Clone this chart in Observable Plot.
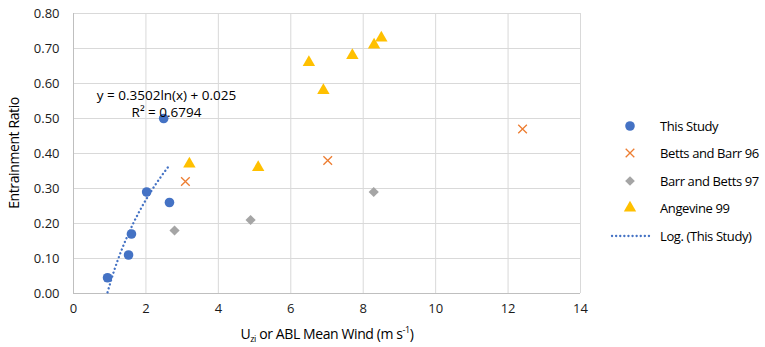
<!DOCTYPE html>
<html><head><meta charset="utf-8">
<script src="https://cdn.jsdelivr.net/npm/d3@7"></script>
<script src="https://cdn.jsdelivr.net/npm/@observablehq/plot@0.6"></script>
<style>
body{margin:0;background:#fff;}
#chart{position:relative;width:765px;height:347px;}
svg text{font-family:"Open Sans",sans-serif;}
</style></head><body><div id="chart"></div>
<script>
// Data
const thisStudyX = [0.94, 1.52, 1.60, 2.02, 2.65, 2.49];
const thisStudyY = [0.045, 0.11, 0.17, 0.29, 0.26, 0.50];
const bettsBarrX = [3.09, 7.02, 12.4];
const bettsBarrY = [0.32, 0.38, 0.47];
const barrBettsX = [2.79, 4.89, 8.29];
const barrBettsY = [0.18, 0.21, 0.29];
const angevineX = [3.2, 5.1, 6.5, 6.9, 7.7, 8.3, 8.5];
const angevineY = [0.37, 0.36, 0.66, 0.58, 0.68, 0.71, 0.73];
// Logarithmic trendline shown on chart: y = a ln(x) + b
const trendCoef = [0.3502, 0.025];
const xTicks = [0, 2, 4, 6, 8, 10, 12, 14];
const yTicks = [0, 0.1, 0.2, 0.3, 0.4, 0.5, 0.6, 0.7, 0.8];
const seriesNames = ["This Study", "Betts and Barr 96", "Barr and Betts 97", "Angevine 99", "Log. (This Study)"];
const colors = {blue:"#4472C4", orange:"#ED7D31", gray:"#A5A5A5", yellow:"#FFC000"};

const pts = (xs, ys) => xs.map((x, i) => ({x, y: ys[i]}));
const ts = pts(thisStudyX, thisStudyY);
const bb = pts(bettsBarrX, bettsBarrY);
const br = pts(barrBettsX, barrBettsY);
const an = pts(angevineX, angevineY);
const xmin = d3.min(thisStudyX), xmax = d3.max(thisStudyX);
const trend = d3.range(0, 41).map(i => {
  const x = xmin + (xmax - xmin) * i / 40;
  return {x, y: trendCoef[0] * Math.log(x) + trendCoef[1]};
});

const plot = Plot.plot({
  width: 765, height: 347,
  marginLeft: 73, marginRight: 185, marginTop: 13, marginBottom: 54,
  style: {fontFamily: "Open Sans", fontSize: "13px", color: "#1a1a1a", background: "#fff"},
  x: {domain: [0, 14], ticks: xTicks, label: null},
  y: {domain: [0, 0.8], ticks: yTicks, label: null, tickFormat: d3.format(".2f")},
  marks: [
    Plot.gridX(xTicks, {stroke: "#d9d9d9", strokeOpacity: 1, strokeWidth: 1}),
    Plot.gridY(yTicks, {stroke: "#d9d9d9", strokeOpacity: 1, strokeWidth: 1}),
    Plot.ruleX([0], {stroke: "#bfbfbf"}),
    Plot.ruleY([0], {stroke: "#bfbfbf"}),
    Plot.axisX({ticks: xTicks, tickSize: 0, tickPadding: 10, fontSize: 13}),
    Plot.axisY({ticks: yTicks, tickSize: 0, tickPadding: 14, tickFormat: d3.format(".2f"), fontSize: 13}),
    Plot.line(trend, {x: "x", y: "y", stroke: colors.blue, strokeWidth: 2.3, strokeDasharray: "0.1 4", strokeLinecap: "round"}),
    Plot.dot(br, {x: "x", y: "y", symbol: "diamond2", fill: colors.gray, r: 4.6}),
    Plot.dot(bb, {x: "x", y: "y", symbol: "times", stroke: colors.orange, strokeWidth: 1.3, r: 4}),
    Plot.dot(an, {x: "x", y: "y", symbol: "triangle", fill: colors.yellow, r: 4.6}),
    Plot.dot(ts, {x: "x", y: "y", symbol: "circle", fill: colors.blue, r: 4.8}),
    Plot.text([`y = ${trendCoef[0]}ln(x) + ${trendCoef[1]}`], {frameAnchor: "top-left", dx: 93, dy: 77, text: d => d, textAnchor: "middle", fontSize: 13.5, fill: "#000"}),
    Plot.text(["R² = 0.6794"], {frameAnchor: "top-left", dx: 93, dy: 94, text: d => d, textAnchor: "middle", fontSize: 13.5, fill: "#000"})
  ]
});
document.getElementById("chart").appendChild(plot);

const svg = d3.select(plot);
// Axis titles
svg.append("text").attr("transform", "translate(19,153) rotate(-90)")
  .attr("text-anchor", "middle").attr("font-size", 14).attr("fill", "#000").attr("letter-spacing", "-0.4")
  .text("Entrainment Ratio");
const xl = svg.append("text").attr("x", 327).attr("y", 339).attr("text-anchor", "middle")
  .attr("font-size", 14).attr("fill", "#000").attr("letter-spacing", "-0.4");
xl.append("tspan").text("U");
xl.append("tspan").attr("font-size", 9).attr("dy", 3).text("zi");
xl.append("tspan").attr("dy", -3).text(" or ABL Mean Wind (m s");
xl.append("tspan").attr("font-size", 9).attr("dy", -6).text("-1");
xl.append("tspan").attr("dy", 6).text(")");

// Legend
const lg = svg.append("g");
const rows = [126, 153, 181, 208, 236];
const sym = [d3.symbolCircle, d3.symbolTimes, d3.symbolDiamond2, d3.symbolTriangle];
const symSize = [72, 50, 60, 66];
const fills = [colors.blue, "none", colors.gray, colors.yellow];
const strokes = ["none", colors.orange, "none", "none"];
sym.forEach((s, i) => {
  lg.append("path").attr("d", d3.symbol(s, symSize[i])())
    .attr("transform", `translate(630,${rows[i]})`)
    .attr("fill", fills[i]).attr("stroke", strokes[i]).attr("stroke-width", 1.3);
});
lg.append("line").attr("x1", 612).attr("x2", 649).attr("y1", rows[4]).attr("y2", rows[4])
  .attr("stroke", colors.blue).attr("stroke-width", 2.3).attr("stroke-dasharray", "0.1 4").attr("stroke-linecap", "round");
seriesNames.forEach((n, i) => {
  lg.append("text").attr("x", 660).attr("y", rows[i]).attr("dy", "0.35em").attr("text-anchor", "start")
    .attr("font-size", 13).attr("fill", "#000").attr("letter-spacing", "-0.4").text(n);
});
</script></body></html>
